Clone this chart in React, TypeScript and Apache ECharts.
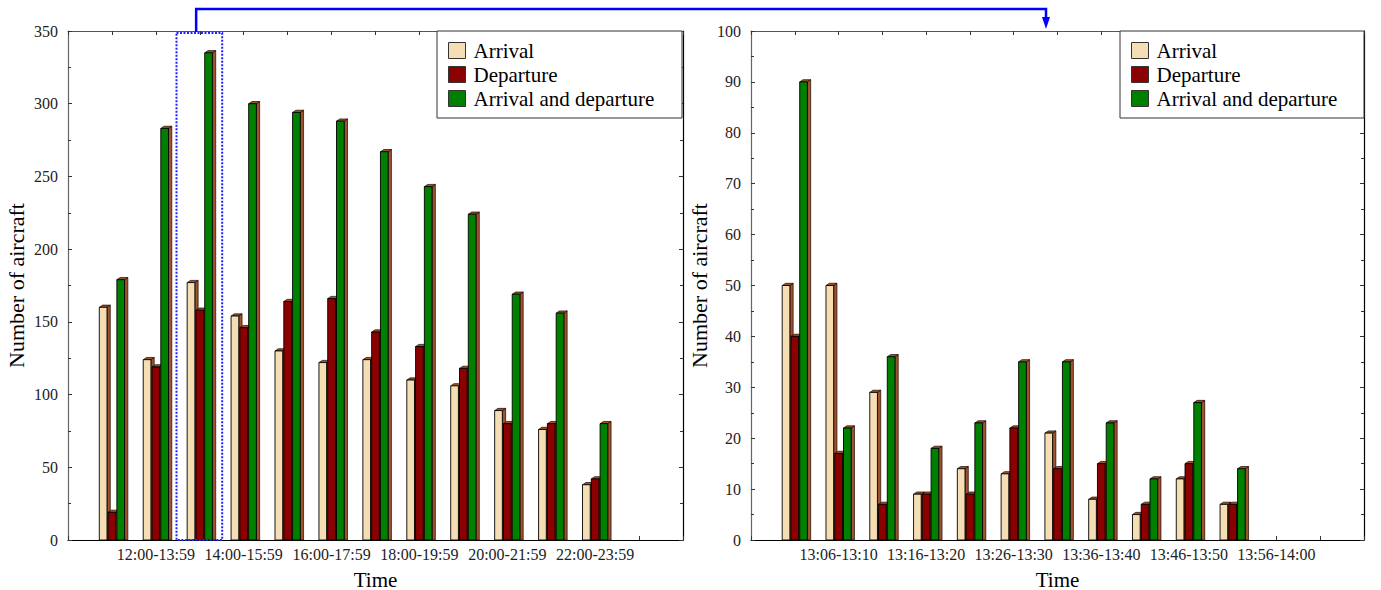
import React, { useEffect, useRef } from "react";
import * as echarts from "echarts";

// ---- data ----
const seriesNames = ["Arrival", "Departure", "Arrival and departure"];
const seriesColors = ["#f5deb3", "#8b0000", "#008000"];

const leftTickLabels = ["12:00-13:59", "14:00-15:59", "16:00-17:59", "18:00-19:59", "20:00-21:59", "22:00-23:59"];
const leftArrival = [160, 124, 177, 154, 130, 122, 124, 110, 106, 89, 76, 38];
const leftDeparture = [19, 119, 158, 146, 164, 166, 143, 133, 118, 80, 80, 42];
const leftBoth = [179, 283, 335, 300, 294, 288, 267, 243, 224, 169, 156, 80];

const rightTickLabels = ["13:06-13:10", "13:16-13:20", "13:26-13:30", "13:36-13:40", "13:46-13:50", "13:56-14:00"];
const rightArrival = [50, 50, 29, 9, 14, 13, 21, 8, 5, 12, 7];
const rightDeparture = [40, 17, 7, 9, 9, 22, 14, 15, 7, 15, 7];
const rightBoth = [90, 22, 36, 18, 23, 35, 35, 23, 12, 27, 14];

const SERIF = "Liberation Serif";
const SIDE = "#a0522d";
const BAR_W = 0.175;
const OFFSETS = [-0.2, 0, 0.2];

function makeRender(offset: number) {
  return (params: any, api: any) => {
    const xi = api.value(0);
    const v = api.value(1);
    const top = api.coord([xi + offset, v]);
    const base = api.coord([xi + offset, 0]);
    const w = api.size([BAR_W, 0])[0];
    const x0 = top[0] - w / 2;
    const x1 = top[0] + w / 2;
    const y = top[1];
    const y0 = base[1];
    const d = 3.3;
    const h = 2.2;
    return {
      type: "group",
      children: [
        { type: "polygon", shape: { points: [[x1, y], [x1 + d, y - h], [x1 + d, y0], [x1, y0]] }, style: { fill: SIDE, stroke: "#1a0a00", lineWidth: 0.7 } },
        { type: "polygon", shape: { points: [[x0, y], [x0 + d, y - h], [x1 + d, y - h], [x1, y]] }, style: { fill: SIDE, stroke: "#1a0a00", lineWidth: 0.7 } },
        { type: "rect", shape: { x: x0, y: y, width: w, height: y0 - y }, style: { fill: api.visual("color"), stroke: "#000", lineWidth: 0.9 } },
      ],
    };
  };
}

function makeXAxes(gridIndex: number, labels: string[]) {
  const common = {
    gridIndex,
    type: "value",
    min: -1,
    max: 13,
    interval: 1,
    splitLine: { show: false },
    axisTick: { show: true, inside: true, length: 4, lineStyle: { color: "#333" } },
  };
  return [
    {
      ...common,
      position: "bottom",
      name: "Time",
      nameLocation: "middle",
      nameGap: 29,
      nameTextStyle: { fontFamily: SERIF, fontSize: 21, color: "#000" },
      axisLine: { show: true, onZero: false, lineStyle: { color: "#000", width: 1.2 } },
      axisLabel: {
        show: true,
        margin: 6,
        fontFamily: SERIF,
        fontSize: 16,
        color: "#222",
        showMinLabel: true,
        showMaxLabel: true,
        formatter: (v: number) => {
          if (v >= 1 && v % 2 === 1) {
            const k = (v - 1) / 2;
            return labels[k] ?? "";
          }
          return "";
        },
      },
    },
    {
      ...common,
      position: "top",
      axisLine: { show: true, onZero: false, lineStyle: { color: "#555", width: 1 } },
      axisLabel: { show: false },
    },
  ];
}

function makeYAxes(gridIndex: number, max: number, interval: number) {
  const common = {
    gridIndex,
    type: "value",
    min: 0,
    max,
    interval,
    splitLine: { show: false },
    axisTick: { show: true, inside: true, length: 4, lineStyle: { color: "#333" } },
    minorTick: { show: true, splitNumber: 2, length: 3, lineStyle: { color: "#333" } },
  };
  return [
    {
      ...common,
      position: "left",
      name: "Number of aircraft",
      nameLocation: "middle",
      nameGap: 41,
      nameTextStyle: { fontFamily: SERIF, fontSize: 22, color: "#000" },
      axisLine: { show: true, onZero: false, lineStyle: { color: "#666", width: 1.2 } },
      axisLabel: { show: true, margin: 10, fontFamily: SERIF, fontSize: 16, color: "#222" },
    },
    {
      ...common,
      position: "right",
      axisLine: { show: true, onZero: false, lineStyle: { color: "#000", width: 1.2 } },
      axisLabel: { show: false },
    },
  ];
}

function makeSeries(axisBase: number, arrays: number[][]) {
  return arrays.map((arr, k) => ({
    type: "custom",
    name: seriesNames[k],
    xAxisIndex: axisBase,
    yAxisIndex: axisBase,
    itemStyle: { color: seriesColors[k] },
    encode: { x: 0, y: 1 },
    data: arr.map((v, i) => [i, v]),
    renderItem: makeRender(OFFSETS[k]),
    clip: false,
    z: 2,
  }));
}

function makeLegend(left: number) {
  return {
    orient: "vertical",
    left,
    top: 40,
    padding: 0,
    itemWidth: 17,
    itemHeight: 16,
    itemGap: 3,
    icon: "rect",
    selectedMode: false,
    z: 6,
    textStyle: { fontFamily: SERIF, fontSize: 21, color: "#000", padding: [0, 0, 0, 3] },
    data: seriesNames.map((n) => ({ name: n, itemStyle: { borderColor: "#333", borderWidth: 1 } })),
  };
}

export default function App() {
  const ref = useRef<HTMLDivElement>(null);
  useEffect(() => {
    if (!ref.current) return;
    const chart = echarts.init(ref.current, null, { renderer: "svg" });
    const baseOption: any = {
      animation: false,
      backgroundColor: "#fff",
      grid: [
        { left: 68, top: 31, width: 615, height: 509, outerBoundsMode: "none", containLabel: false },
        { left: 751, top: 31, width: 613, height: 509, outerBoundsMode: "none", containLabel: false },
      ],
      xAxis: [...makeXAxes(0, leftTickLabels), ...makeXAxes(1, rightTickLabels)],
      yAxis: [...makeYAxes(0, 350, 50), ...makeYAxes(1, 100, 10)],
      legend: [makeLegend(448), makeLegend(1131)],
      series: [
        ...makeSeries(0, [leftArrival, leftDeparture, leftBoth]),
        ...makeSeries(2, [rightArrival, rightDeparture, rightBoth]),
      ],
    };
    chart.setOption(baseOption);

    // annotation: dotted box around the zoomed group, and arrow to right chart
    const pLeft = chart.convertToPixel({ xAxisIndex: 0, yAxisIndex: 0 } as any, [1.47, 0]) as number[];
    const pRight = chart.convertToPixel({ xAxisIndex: 0, yAxisIndex: 0 } as any, [2.51, 0]) as number[];
    const bx = pLeft[0];
    const bw = pRight[0] - pLeft[0];
    const by = 33;
    const bh = pLeft[1] - by;
    const ax = bx + bw * 0.43;
    chart.setOption({
      graphic: [
        { type: "rect", z: 1, shape: { x: 437, y: 31, width: 245, height: 87 }, style: { fill: "#fff", stroke: "#333", lineWidth: 1 } },
        { type: "rect", z: 1, shape: { x: 1120, y: 31, width: 244, height: 87 }, style: { fill: "#fff", stroke: "#333", lineWidth: 1 } },
        { type: "rect", z: 10, shape: { x: bx, y: by, width: bw, height: bh }, style: { fill: "none", stroke: "#2222ff", lineWidth: 2, lineDash: [2, 1.5] } },
        { type: "polyline", z: 10, shape: { points: [[ax, 32], [ax, 9], [1046, 9], [1046, 20]] }, style: { stroke: "#0000ff", lineWidth: 2.5, fill: "none" } },
        { type: "polygon", z: 10, shape: { points: [[1042, 17], [1050, 17], [1046, 29]] }, style: { fill: "#0000ff" } },
      ],
    });
    return () => chart.dispose();
  }, []);
  return <div ref={ref} style={{ position: "absolute", left: 0, top: 0, width: 1381, height: 590 }} />;
}
